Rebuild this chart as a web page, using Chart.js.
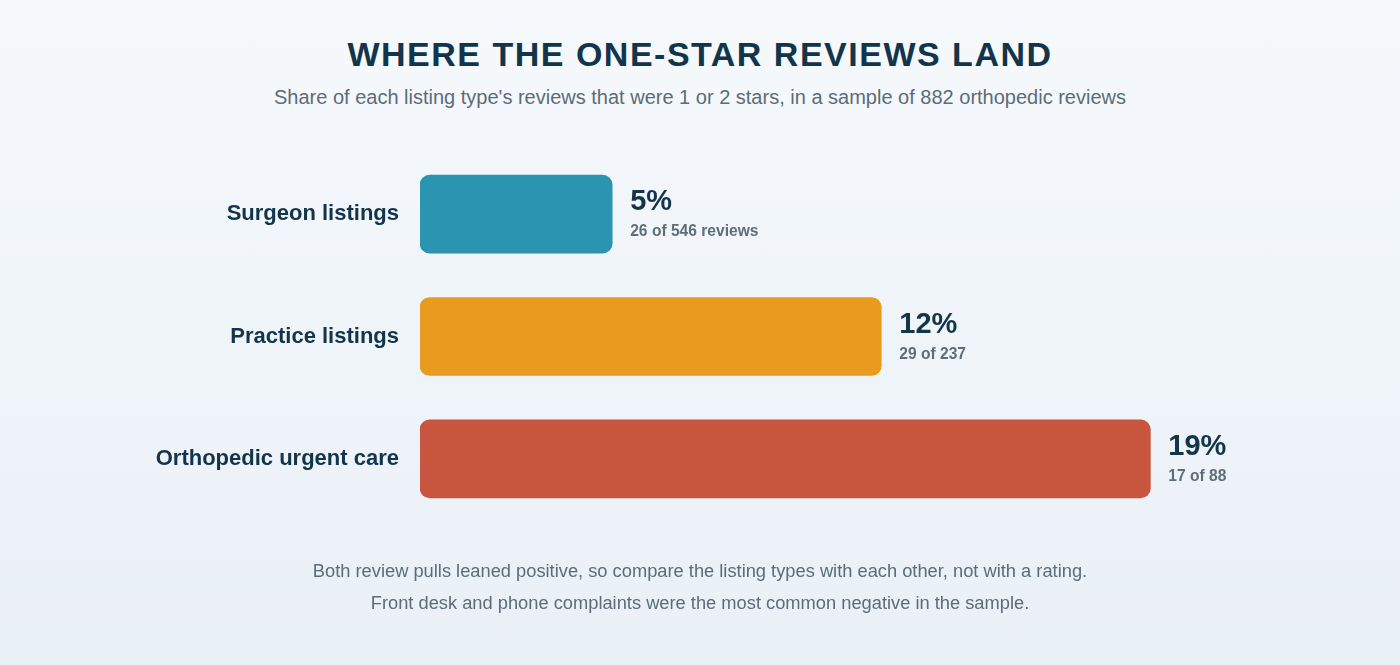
<!DOCTYPE html>
<html>
<head>
<meta charset="utf-8">
<script src="https://cdn.jsdelivr.net/npm/chart.js@4.4.1/dist/chart.umd.min.js"></script>
<style>
  html, body { margin: 0; padding: 0; }
  body {
    width: 1400px; height: 665px; overflow: hidden; position: relative;
    background: linear-gradient(180deg, #f6f9fc 0%, #e9f0f6 100%);
    font-family: "Liberation Sans", Arial, Helvetica, sans-serif;
  }
  .title {
    position: absolute; top: 35px; left: 0; width: 1400px; text-align: center;
    font-size: 34px; font-weight: bold; letter-spacing: 1.5px; color: #12354b;
  }
  .subtitle {
    position: absolute; top: 86px; left: 0; width: 1400px; text-align: center;
    font-size: 20px; color: #5c6c78;
  }
  .note {
    position: absolute; top: 555px; left: 0; width: 1400px; text-align: center;
    font-size: 18.3px; line-height: 32px; color: #5c6c78;
  }
  #chartWrap { position: absolute; left: 0; top: 0; width: 1400px; height: 665px; }
</style>
</head>
<body>
<div class="title">WHERE THE ONE-STAR REVIEWS LAND</div>
<div class="subtitle">Share of each listing type's reviews that were 1 or 2 stars, in a sample of 882 orthopedic reviews</div>
<div id="chartWrap"><canvas id="barChart"></canvas></div>
<div class="note">Both review pulls leaned positive, so compare the listing types with each other, not with a rating.<br>Front desk and phone complaints were the most common negative in the sample.</div>

<script>
const categories = ['Surgeon listings', 'Practice listings', 'Orthopedic urgent care'];
const shares = [5, 12, 19];
const counts = ['26 of 546 reviews', '29 of 237', '17 of 88'];
const barColors = ['#2a94b1', '#e89b1e', '#c8563e'];

// ── value labels to the right of each bar ──
const valueLabels = {
  id: 'valueLabels',
  afterDatasetsDraw(chart) {
    const ctx = chart.ctx;
    const meta = chart.getDatasetMeta(0);
    ctx.save();
    ctx.textAlign = 'left';
    ctx.textBaseline = 'middle';
    meta.data.forEach((bar, i) => {
      const x = bar.x + 18;
      ctx.fillStyle = '#12354b';
      ctx.font = 'bold 29px "Liberation Sans", Arial, sans-serif';
      ctx.fillText(shares[i] + '%', x, bar.y - 12);
      ctx.fillStyle = '#5f6d79';
      ctx.font = 'bold 15.6px "Liberation Sans", Arial, sans-serif';
      ctx.fillText(counts[i], x, bar.y + 18);
    });
    ctx.restore();
  }
};

const canvas = document.getElementById('barChart');
new Chart(canvas.getContext('2d'), {
  type: 'bar',
  data: {
    labels: categories,
    datasets: [{
      data: shares,
      backgroundColor: barColors,
      borderRadius: 10,
      borderSkipped: false,
      barThickness: 78,
    }]
  },
  options: {
    indexAxis: 'y',
    responsive: true,
    maintainAspectRatio: false,
    animation: false,
    layout: { padding: { left: 0, right: 19, top: 153, bottom: 145 } },
    plugins: { legend: { display: false }, tooltip: { enabled: false } },
    scales: {
      x: {
        min: 0, max: 25,
        display: false,
        grid: { display: false },
      },
      y: {
        grid: { display: false },
        border: { display: false },
        ticks: {
          padding: 13,
          color: '#12354b',
          font: { family: '"Liberation Sans", Arial, sans-serif', size: 22, weight: 'bold' },
        },
        afterFit(scale) { scale.width = 420; }
      }
    }
  },
  plugins: [valueLabels]
});
</script>
</body>
</html>
